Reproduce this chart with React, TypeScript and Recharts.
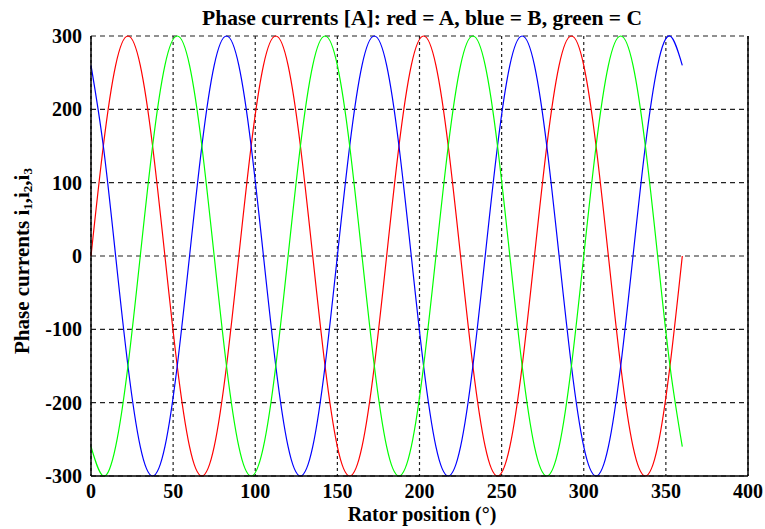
import React from "react";
import {
  LineChart,
  Line,
  XAxis,
  YAxis,
  CartesianGrid,
  ReferenceLine,
  Label,
} from "recharts";

// rotor angle in degrees, sampled every 7.5°
const angles = [
  0, 7.5, 15, 22.5, 30, 37.5, 45, 52.5, 60, 67.5, 75, 82.5, 90, 97.5, 105,
  112.5, 120, 127.5, 135, 142.5, 150, 157.5, 165, 172.5, 180, 187.5, 195,
  202.5, 210, 217.5, 225, 232.5, 240, 247.5, 255, 262.5, 270, 277.5, 285,
  292.5, 300, 307.5, 315, 322.5, 330, 337.5, 345, 352.5, 360,
];

// phase A (red)
const phaseA = [
  0, 150, 260, 300, 260, 150, 0, -150, -260, -300, -260, -150,
  0, 150, 260, 300, 260, 150, 0, -150, -260, -300, -260, -150,
  0, 150, 260, 300, 260, 150, 0, -150, -260, -300, -260, -150,
  0, 150, 260, 300, 260, 150, 0, -150, -260, -300, -260, -150,
  0,
];

// phase B (blue)
const phaseB = [
  260, 150, 0, -150, -260, -300, -260, -150, 0, 150, 260, 300,
  260, 150, 0, -150, -260, -300, -260, -150, 0, 150, 260, 300,
  260, 150, 0, -150, -260, -300, -260, -150, 0, 150, 260, 300,
  260, 150, 0, -150, -260, -300, -260, -150, 0, 150, 260, 300,
  260,
];

// phase C (green)
const phaseC = [
  -260, -300, -260, -150, 0, 150, 260, 300, 260, 150, 0, -150,
  -260, -300, -260, -150, 0, 150, 260, 300, 260, 150, 0, -150,
  -260, -300, -260, -150, 0, 150, 260, 300, 260, 150, 0, -150,
  -260, -300, -260, -150, 0, 150, 260, 300, 260, 150, 0, -150,
  -260,
];

const xTicks = [0, 50, 100, 150, 200, 250, 300, 350, 400];
const yTicks = [-300, -200, -100, 0, 100, 200, 300];

const data = angles.map((angle, i) => ({
  angle,
  a: phaseA[i],
  b: phaseB[i],
  c: phaseC[i],
}));

const FONT = "'Liberation Serif', 'Times New Roman', serif";

const tickStyle = {
  fill: "#000",
  fontSize: 20,
  fontFamily: FONT,
  fontWeight: "bold" as const,
};

function YTitle() {
  const cx = 22;
  const cy = 261;
  return (
    <text
      x={cx}
      y={cy}
      transform={`rotate(-90, ${cx}, ${cy})`}
      textAnchor="middle"
      dominantBaseline="central"
      fontFamily={FONT}
      fontWeight="bold"
      fontSize={21}
      fill="#000"
    >
      Phase currents i
      <tspan fontSize={13} dy={5}>1</tspan>
      <tspan dy={-5}>,i</tspan>
      <tspan fontSize={13} dy={5}>2</tspan>
      <tspan dy={-5}>,i</tspan>
      <tspan fontSize={13} dy={5}>3</tspan>
    </text>
  );
}

function XTitle() {
  return (
    <text
      x={422}
      y={521}
      textAnchor="middle"
      fontFamily={FONT}
      fontWeight="bold"
      fontSize={20}
      fill="#000"
    >
      Rator position (°)
    </text>
  );
}

export default function App() {
  return (
    <div
      style={{
        position: "absolute",
        left: 0,
        top: 0,
        width: 765,
        height: 529,
        background: "#fff",
      }}
    >
      <svg
        width={765}
        height={40}
        style={{ position: "absolute", left: 0, top: 0 }}
      >
        <text
          x={422}
          y={25}
          textAnchor="middle"
          fontFamily={FONT}
          fontWeight="bold"
          fontSize={21.5}
          fill="#000"
        >
          Phase currents [A]: red = A, blue = B, green = C
        </text>
      </svg>
      <LineChart
        width={765}
        height={529}
        data={data}
        margin={{ top: 36, right: 17, left: 0, bottom: 0 }}
      >
        <CartesianGrid
          vertical={false}
          stroke="#222"
          strokeWidth={1.2}
          strokeDasharray="5 4"
        />
        <CartesianGrid
          horizontal={false}
          stroke="#222"
          strokeWidth={1.2}
          strokeDasharray="3 3"
        />
        <XAxis
          dataKey="angle"
          type="number"
          domain={[0, 400]}
          ticks={xTicks}
          interval={0}
          height={53}
          tickLine={false}
          tickSize={0}
          tickMargin={8}
          tick={tickStyle}
          axisLine={{ stroke: "#000", strokeWidth: 1.5 }}
        >
          <Label content={<XTitle />} />
        </XAxis>
        <YAxis
          type="number"
          domain={[-300, 300]}
          ticks={yTicks}
          interval={0}
          width={91}
          tickLine={false}
          tickSize={0}
          tickMargin={9}
          tick={tickStyle}
          axisLine={{ stroke: "#000", strokeWidth: 1.5 }}
        >
          <Label content={<YTitle />} />
        </YAxis>
        <ReferenceLine x={400} stroke="#000" strokeWidth={1.5} />
        <Line
          type="natural"
          dataKey="a"
          stroke="#ff0000"
          strokeWidth={1.2}
          dot={false}
          isAnimationActive={false}
        />
        <Line
          type="natural"
          dataKey="b"
          stroke="#0000ff"
          strokeWidth={1.2}
          dot={false}
          isAnimationActive={false}
        />
        <Line
          type="natural"
          dataKey="c"
          stroke="#00ff00"
          strokeWidth={1.2}
          dot={false}
          isAnimationActive={false}
        />
      </LineChart>
    </div>
  );
}
